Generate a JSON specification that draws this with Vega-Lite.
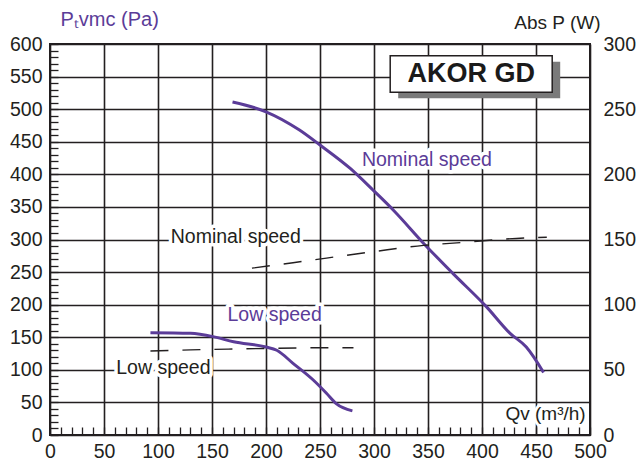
{
  "$schema": "https://vega.github.io/schema/vega-lite/v6.json",
  "width": 540,
  "height": 391,
  "autosize": {"type": "none"},
  "padding": {"left": 50, "top": 44, "right": 46, "bottom": 27},
  "background": "white",
  "config": {
    "view": {"stroke": "#231f20", "strokeWidth": 2},
    "font": "Liberation Sans",
    "axis": {
      "labelFont": "Liberation Sans",
      "labelFontSize": 19.5,
      "labelColor": "#231f20",
      "titleFont": "Liberation Sans",
      "titleFontWeight": "normal",
      "domain": false
    }
  },
  "datasets": {
    "pressure": [
      {"s": "Nominal", "q": 169, "p": 511},
      {"s": "Nominal", "q": 200, "p": 496},
      {"s": "Nominal", "q": 231, "p": 468},
      {"s": "Nominal", "q": 250, "p": 445},
      {"s": "Nominal", "q": 278, "p": 409},
      {"s": "Nominal", "q": 299, "p": 376},
      {"s": "Nominal", "q": 318, "p": 345},
      {"s": "Nominal", "q": 346, "p": 294},
      {"s": "Nominal", "q": 373, "p": 248},
      {"s": "Nominal", "q": 404, "p": 197},
      {"s": "Nominal", "q": 426, "p": 156},
      {"s": "Nominal", "q": 441, "p": 135},
      {"s": "Nominal", "q": 457, "p": 96},
      {"s": "Low", "q": 93, "p": 157},
      {"s": "Low", "q": 130, "p": 156},
      {"s": "Low", "q": 151, "p": 151},
      {"s": "Low", "q": 170, "p": 143},
      {"s": "Low", "q": 200, "p": 135},
      {"s": "Low", "q": 210, "p": 130},
      {"s": "Low", "q": 225, "p": 110},
      {"s": "Low", "q": 244, "p": 84},
      {"s": "Low", "q": 256, "p": 64},
      {"s": "Low", "q": 265, "p": 48},
      {"s": "Low", "q": 280, "p": 37}
    ],
    "power": [
      {"s": "Nominal", "q": 187, "w": 128},
      {"s": "Nominal", "q": 225, "w": 132.2},
      {"s": "Nominal", "q": 299, "w": 140.6},
      {"s": "Nominal", "q": 346, "w": 145.5},
      {"s": "Nominal", "q": 370, "w": 147},
      {"s": "Nominal", "q": 441, "w": 151.2},
      {"s": "Nominal", "q": 460, "w": 151.7},
      {"s": "Low", "q": 93, "w": 64.5},
      {"s": "Low", "q": 130, "w": 65.3},
      {"s": "Low", "q": 165, "w": 65.9},
      {"s": "Low", "q": 200, "w": 66.4},
      {"s": "Low", "q": 240, "w": 66.9},
      {"s": "Low", "q": 281, "w": 67}
    ],
    "purpleLabels": [
      {"q": 349, "p": 422, "label": "Nominal speed"},
      {"q": 208, "p": 184, "label": "Low speed"}
    ],
    "blackLabels": [
      {"q": 172, "p": 304, "label": "Nominal speed"},
      {"q": 105, "p": 103, "label": "Low speed"}
    ],
    "xTitle": [{"q": 496, "p": 23, "label": "Qv (m³/h)"}],
    "box": [{"q": 315, "q2": 465, "p": 526, "p2": 582, "label": "AKOR GD", "qc": 390, "pc": 554}]
  },
  "encoding": {
    "x": {
      "field": "q",
      "type": "quantitative",
      "scale": {"domain": [0, 500], "nice": false, "zero": false},
      "axis": {
        "values": [0,10,20,30,40,50,60,70,80,90,100,110,120,130,140,150,160,170,180,190,200,210,220,230,240,250,260,270,280,290,300,310,320,330,340,350,360,370,380,390,400,410,420,430,440,450,460,470,480,490,500],
        "labelExpr": "datum.value % 50 === 0 ? datum.label : ''",
        "grid": true,
        "gridColor": "#231f20",
        "gridWidth": 1.6,
        "gridOpacity": {"condition": {"test": "datum.value % 50 === 0", "value": 1}, "value": 0},
        "ticks": true,
        "tickSize": -8,
        "tickWidth": 1.3,
        "tickColor": "#231f20",
        "labelPadding": 15,
        "labelFlush": false,
        "labelOverlap": false,
        "title": null
      }
    }
  },
  "layer": [
    {
      "encoding": {
        "y": {
          "field": "p",
          "type": "quantitative",
          "scale": {"domain": [0, 600], "nice": false, "zero": false},
          "axis": {
            "orient": "left",
            "values": [0,10,20,30,40,50,60,70,80,90,100,110,120,130,140,150,160,170,180,190,200,210,220,230,240,250,260,270,280,290,300,310,320,330,340,350,360,370,380,390,400,410,420,430,440,450,460,470,480,490,500,510,520,530,540,550,560,570,580,590,600],
            "labelExpr": "datum.value % 50 === 0 ? datum.label : ''",
            "grid": true,
            "gridColor": "#231f20",
            "gridWidth": 1.6,
            "gridOpacity": {"condition": {"test": "datum.value % 50 === 0", "value": 1}, "value": 0},
            "ticks": true,
            "tickSize": -8,
            "tickWidth": 1.3,
            "tickColor": "#231f20",
            "labelPadding": 16,
            "labelFlush": false,
            "labelOverlap": false,
            "title": "Pₜvmc (Pa)",
            "titleColor": "#5b3c98",
            "titleFontSize": 20,
            "titleAngle": 0,
            "titleAlign": "left",
            "titleBaseline": "alphabetic",
            "titleX": 10,
            "titleY": -19
          }
        }
      },
      "layer": [
        {
          "data": {"name": "box"},
          "mark": {"type": "rect", "fill": "#7a7a7a", "xOffset": 8, "yOffset": 6, "x2Offset": 8, "y2Offset": 6},
          "encoding": {"x2": {"field": "q2"}, "y2": {"field": "p2"}}
        },
        {
          "data": {"name": "box"},
          "mark": {"type": "rect", "fill": "white", "stroke": "#231f20", "strokeWidth": 1.5},
          "encoding": {"x2": {"field": "q2"}, "y2": {"field": "p2"}}
        },
        {
          "data": {"name": "box"},
          "mark": {"type": "text", "fontSize": 27, "fontWeight": "bold", "color": "#1a1a1a", "align": "center", "baseline": "middle"},
          "encoding": {"x": {"field": "qc", "type": "quantitative"}, "y": {"field": "pc", "type": "quantitative"}, "text": {"field": "label"}}
        },
        {
          "data": {"name": "pressure"},
          "mark": {"type": "line", "color": "#5b3c98", "strokeWidth": 3, "interpolate": "monotone"},
          "encoding": {"detail": {"field": "s"}}
        },
        {
          "data": {"name": "purpleLabels"},
          "mark": {"type": "text", "fontSize": 19.5, "stroke": "white", "strokeWidth": 7, "strokeJoin": "round", "fill": "white"},
          "encoding": {"text": {"field": "label"}}
        },
        {
          "data": {"name": "purpleLabels"},
          "mark": {"type": "text", "fontSize": 19.5, "color": "#5b3c98"},
          "encoding": {"text": {"field": "label"}}
        },
        {
          "data": {"name": "blackLabels"},
          "mark": {"type": "text", "fontSize": 19.5, "stroke": "white", "strokeWidth": 7, "strokeJoin": "round", "fill": "white"},
          "encoding": {"text": {"field": "label"}}
        },
        {
          "data": {"name": "blackLabels"},
          "mark": {"type": "text", "fontSize": 19.5, "color": "#231f20"},
          "encoding": {"text": {"field": "label"}}
        },
        {
          "data": {"name": "xTitle"},
          "mark": {"type": "text", "fontSize": 19, "stroke": "white", "strokeWidth": 6, "strokeJoin": "round", "fill": "white", "align": "right", "baseline": "alphabetic"},
          "encoding": {"text": {"field": "label"}}
        },
        {
          "data": {"name": "xTitle"},
          "mark": {"type": "text", "fontSize": 19, "color": "#231f20", "align": "right", "baseline": "alphabetic"},
          "encoding": {"text": {"field": "label"}}
        }
      ]
    },
    {
      "data": {"name": "power"},
      "mark": {"type": "line", "color": "#231f20", "strokeWidth": 1.4, "strokeDash": [18, 14], "interpolate": "monotone"},
      "encoding": {
        "detail": {"field": "s"},
        "y": {
          "field": "w",
          "type": "quantitative",
          "scale": {"domain": [0, 300], "nice": false, "zero": false},
          "axis": {
            "orient": "right",
            "values": [0, 50, 100, 150, 200, 250, 300],
            "grid": false,
            "ticks": false,
            "labelPadding": 13,
            "labelFlush": false,
            "labelOverlap": false,
            "title": "Abs P (W)",
            "titleColor": "#231f20",
            "titleFontSize": 19,
            "titleAngle": 0,
            "titleAlign": "right",
            "titleBaseline": "alphabetic",
            "titleX": 10,
            "titleY": -16
          }
        }
      }
    }
  ],
  "resolve": {"scale": {"y": "independent"}, "axis": {"y": "independent"}}
}
